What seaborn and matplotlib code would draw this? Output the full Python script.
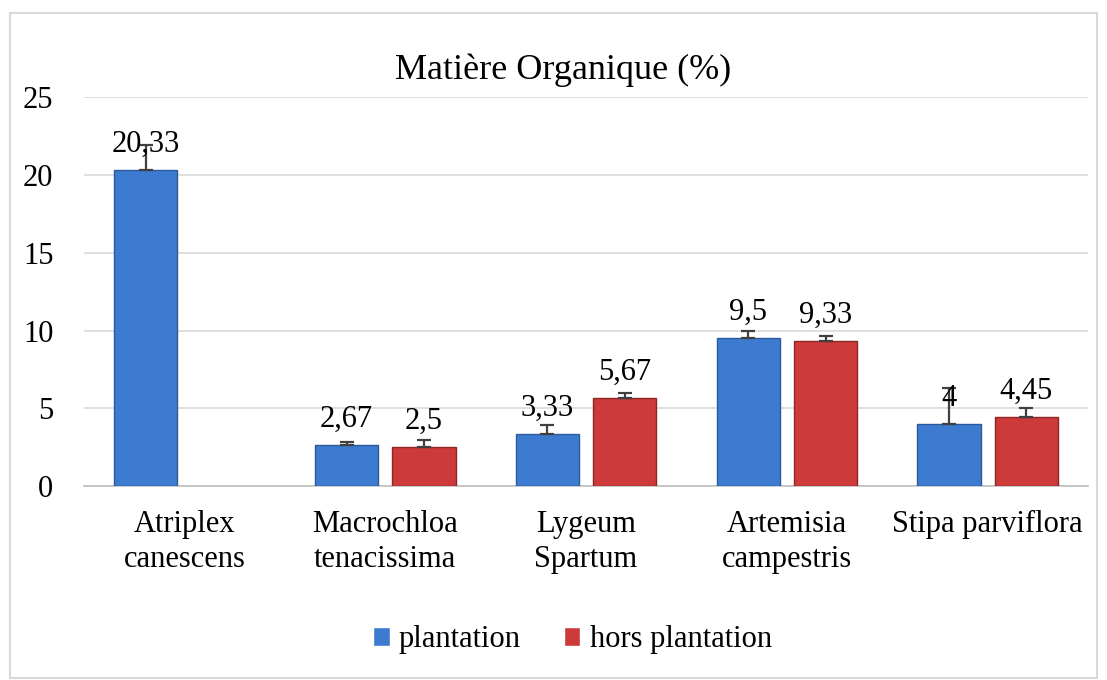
import numpy as np
import pandas as pd
import matplotlib
matplotlib.use("Agg")
import matplotlib.pyplot as plt
import seaborn as sns
from matplotlib.patches import Rectangle

# data
species = ["Atriplex\ncanescens", "Macrochloa\ntenacissima", "Lygeum\nSpartum",
           "Artemisia\ncampestris", "Stipa parviflora"]
plantation = [20.33, 2.67, 3.33, 9.5, 4]
hors_plantation = [np.nan, 2.5, 5.67, 9.33, 4.45]
err_plantation = [1.6, 0.2, 0.6, 0.5, 2.3]
err_hors = [np.nan, 0.5, 0.3, 0.3, 0.55]
groups = ["plantation", "hors plantation"]

df = pd.DataFrame({
    "Espece": species * 2,
    "Groupe": [groups[0]] * 5 + [groups[1]] * 5,
    "MO": plantation + hors_plantation,
    "err": err_plantation + err_hors,
})

sns.set_style("white")
plt.rcParams["font.family"] = ["Liberation Serif", "DejaVu Serif"]

fig = plt.figure(figsize=(11.07, 6.8), dpi=100)
ax = fig.add_axes([0.0759, 0.285, 0.907, 0.572])

colors = {"plantation": "#3d7bd0", "hors plantation": "#cc3a3a"}
edges = {"plantation": "#2b5a9c", "hors plantation": "#8f2626"}
sns.barplot(data=df, x="Espece", y="MO", hue="Groupe", palette=colors, saturation=1,
            width=0.77, gap=0.18, ax=ax, legend=True, errorbar=None, zorder=3)

# edges, error bars and value labels from the bar patches
for cont, g in zip(ax.containers, groups):
    sub = df[df["Groupe"] == g].reset_index(drop=True)
    for bar in cont:
        xc = bar.get_x() + bar.get_width() / 2
        i = int(round(xc))
        v = sub.loc[i, "MO"]
        if np.isnan(v):
            continue
        bar.set_edgecolor(edges[g])
        bar.set_linewidth(1.0)
        ax.errorbar(xc, v, yerr=[[0], [sub.loc[i, "err"]]], fmt="none",
                    ecolor="#404040", elinewidth=1.6, capsize=5, capthick=1.6, zorder=4)
        ax.annotate(f"{v:g}".replace(".", ","), (xc, v), xytext=(0, 8),
                    textcoords="offset points", ha="center", va="bottom",
                    fontsize=22, color="black", zorder=5)

ax.set_ylim(0, 25)
ax.set_yticks([0, 5, 10, 15, 20, 25])
ax.set_xlim(-0.5, 4.5)
ax.set_xlabel("")
ax.set_ylabel("")
ax.yaxis.grid(True, color="#d9d9d9", linewidth=1.2, zorder=0)
ax.set_axisbelow(True)
for s in ["top", "right", "left"]:
    ax.spines[s].set_visible(False)
ax.spines["bottom"].set_color("#bfbfbf")
ax.spines["bottom"].set_linewidth(1.2)
ax.tick_params(axis="y", length=0, pad=22, labelsize=22, labelcolor="black")
ax.tick_params(axis="x", length=0, pad=17, labelsize=22, labelcolor="black")
for t in ax.get_xticklabels():
    t.set_linespacing(1.3)

fig.text(0.509, 0.897, "Matière Organique (%)", ha="center", va="center",
         fontsize=26, color="black")

handles, labels = ax.get_legend_handles_labels()
ax.legend_.remove()
fig.legend(handles, labels, loc="center", bbox_to_anchor=(0.517, 0.059), ncol=2,
           frameon=False, fontsize=22, handlelength=0.55, handleheight=0.55,
           handletextpad=0.3, columnspacing=1.4, labelcolor="black")

fig.patches.append(Rectangle((0.009, 0.003), 0.982, 0.978, transform=fig.transFigure,
                             fill=False, edgecolor="#d9d9d9", linewidth=1.5))

fig.savefig("out.png", dpi=100)
